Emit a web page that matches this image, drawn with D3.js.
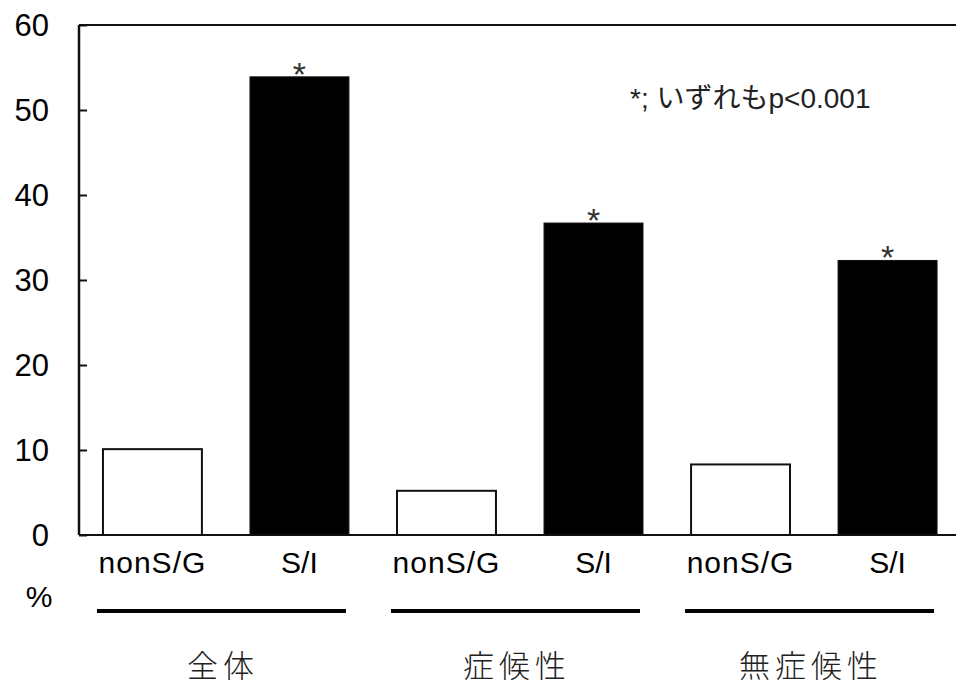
<!DOCTYPE html>
<html>
<head>
<meta charset="utf-8">
<script src="https://cdn.jsdelivr.net/npm/d3@7"></script>
<style>
  html, body { margin: 0; padding: 0; background: #fff; }
  svg { display: block; }
  text { font-family: "Liberation Sans", Arial, "Noto Sans CJK JP", sans-serif; fill: #000; }
  .cjk { font-family: "Noto Sans CJK JP", sans-serif; }
</style>
</head>
<body>
<svg id="chart" width="956" height="686"></svg>
<script>
// ---- data ----
const groups = ["全体", "症候性", "無症候性"];
const subCategories = ["nonS/G", "S/I"];
const values = [10.1, 53.9, 5.2, 36.7, 8.3, 32.3];
const significant = [false, true, false, true, false, true];
const yTicks = [0, 10, 20, 30, 40, 50, 60];
const yLabel = "%";
const note = "*; いずれもp<0.001";

// ---- build rows ----
const rows = [];
groups.forEach((g, gi) => {
  subCategories.forEach((s, si) => {
    const idx = gi * subCategories.length + si;
    rows.push({ key: g + "|" + s, group: g, sub: s, value: values[idx], sig: significant[idx] });
  });
});

const W = 956, H = 686;
const svg = d3.select("#chart");

const x = d3.scaleBand()
  .domain(rows.map(d => d.key))
  .range([79, 961])
  .paddingInner(0.327)
  .paddingOuter(0.163);

const y = d3.scaleLinear().domain([0, 60]).range([535, 25]);

// bars
svg.append("g").selectAll("rect")
  .data(rows)
  .join("rect")
  .attr("x", d => x(d.key))
  .attr("y", d => y(d.value))
  .attr("width", x.bandwidth())
  .attr("height", d => y(0) - y(d.value))
  .attr("fill", d => d.sub === "S/I" ? "#000" : "#fff")
  .attr("stroke", "#111")
  .attr("stroke-width", d => d.sub === "S/I" ? 1 : 2);

// asterisks
svg.append("g").selectAll("text")
  .data(rows.filter(d => d.sig))
  .join("text")
  .attr("x", d => x(d.key) + x.bandwidth() / 2)
  .attr("y", d => y(d.value) + 9)
  .attr("text-anchor", "middle")
  .style("font-size", "34px")
  .style("fill", "#333")
  .text("*");

// y axis
const yAxis = d3.axisRight(y).tickValues(yTicks).tickSize(8).tickFormat("");
const ya = svg.append("g").attr("transform", "translate(79,0)").call(yAxis);
ya.select(".domain").remove();
ya.selectAll(".tick line").attr("stroke", "#111").attr("stroke-width", 2);

// frame lines: left, top, bottom
svg.append("line").attr("x1", 79).attr("x2", 79).attr("y1", y(60)).attr("y2", y(0))
  .attr("stroke", "#111").attr("stroke-width", 2.5);
svg.append("line").attr("x1", 79).attr("x2", W).attr("y1", y(60)).attr("y2", y(60))
  .attr("stroke", "#111").attr("stroke-width", 2);
svg.append("line").attr("x1", 79).attr("x2", W).attr("y1", y(0)).attr("y2", y(0))
  .attr("stroke", "#111").attr("stroke-width", 2);

// y tick labels
svg.append("g").selectAll("text")
  .data(yTicks)
  .join("text")
  .attr("x", 49)
  .attr("y", d => y(d))
  .attr("dy", "0.36em")
  .attr("text-anchor", "end")
  .style("font-size", "31px")
  .text(d => d);

// % label
svg.append("text").attr("x", 39).attr("y", 607)
  .attr("text-anchor", "middle").style("font-size", "30px").text(yLabel);

// category labels
svg.append("g").selectAll("text")
  .data(rows)
  .join("text")
  .attr("x", d => x(d.key) + x.bandwidth() / 2)
  .attr("y", 573)
  .attr("text-anchor", "middle")
  .style("font-size", "30px")
  .style("letter-spacing", d => d.sub === "nonS/G" ? "1px" : "0px")
  .text(d => d.sub);

// group lines & labels
groups.forEach(g => {
  const first = x(g + "|" + subCategories[0]);
  const last = x(g + "|" + subCategories[subCategories.length - 1]) + x.bandwidth();
  svg.append("line")
    .attr("x1", first - 6).attr("x2", last - 3)
    .attr("y1", 611).attr("y2", 611)
    .attr("stroke", "#000").attr("stroke-width", 4);
  svg.append("text")
    .attr("class", "cjk")
    .attr("x", (first + last) / 2 - 3)
    .attr("y", 677)
    .attr("text-anchor", "middle")
    .style("font-size", "31px")
    .style("font-weight", "300")
    .style("letter-spacing", "5px")
    .style("fill", "#222")
    .text(g);
});

// note
svg.append("text")
  .attr("x", 630).attr("y", 108)
  .style("font-size", "28px")
  .style("fill", "#222")
  .text(note);
</script>
</body>
</html>
